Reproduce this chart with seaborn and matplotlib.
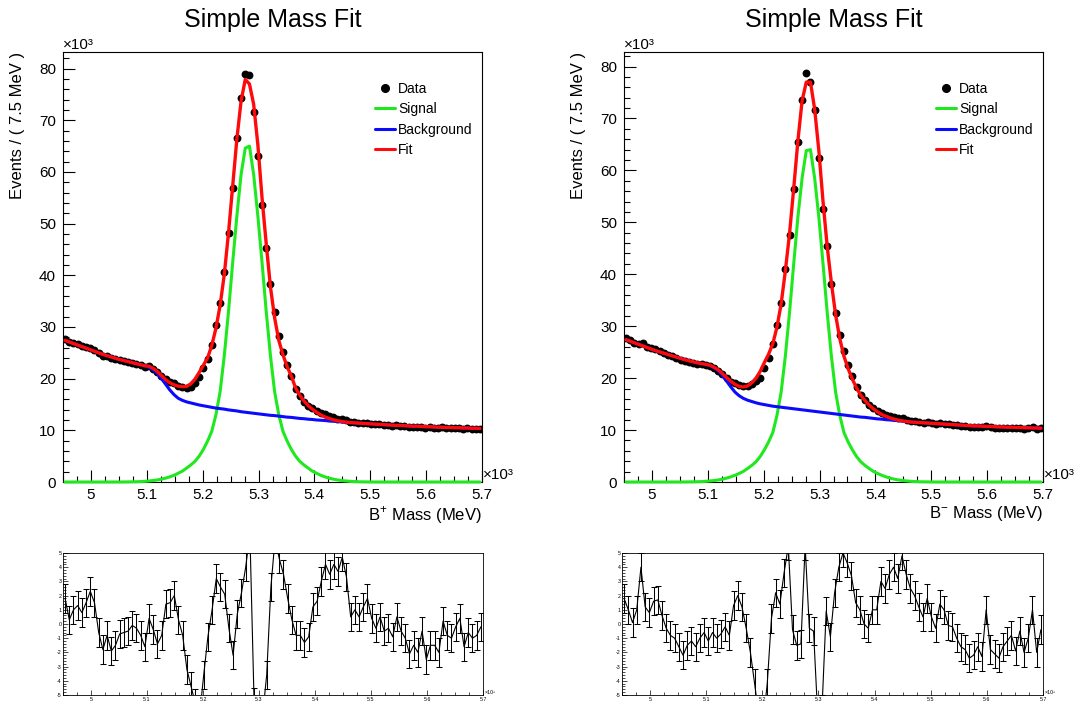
import numpy as np
import matplotlib
matplotlib.use("Agg")
import matplotlib.pyplot as plt
from matplotlib.lines import Line2D
from matplotlib.ticker import MultipleLocator, FuncFormatter
import seaborn as sns

# B mass binning (x 10^3 MeV), 100 bins of 7.5 MeV
mass_lo, mass_hi, n_bins = 4.95, 5.70, 100
mass = mass_lo + (np.arange(n_bins) + 0.5) * (mass_hi - mass_lo) / n_bins

# ---- B+ panel (events x 10^3) ----
data_plus = [27.70, 27.15, 26.96, 26.71, 26.33, 26.14, 25.97, 25.54, 24.90, 24.42,
             24.33, 23.91, 23.72, 23.59, 23.41, 23.22, 23.08, 22.85, 22.58, 22.26,
             22.46, 21.94, 21.20, 20.48, 20.00, 19.40, 19.10, 18.60, 18.35, 18.10,
             18.40, 19.10, 20.30, 22.10, 23.80, 26.60, 30.30, 34.70, 40.60, 48.20,
             56.80, 66.60, 74.30, 79.00, 78.80, 71.60, 63.00, 53.50, 45.30, 38.40,
             32.90, 28.20, 25.20, 22.60, 20.55, 18.09, 16.70, 15.54, 14.69, 14.24,
             13.69, 13.34, 13.07, 12.69, 12.51, 12.25, 12.21, 11.96, 11.55, 11.56,
             11.45, 11.48, 11.49, 11.29, 11.17, 11.20, 11.05, 11.02, 10.91, 11.00,
             10.90, 10.80, 10.63, 10.64, 10.59, 10.70, 10.44, 10.55, 10.50, 10.39,
             10.62, 10.47, 10.45, 10.48, 10.54, 10.29, 10.39, 10.30, 10.32, 10.33]
fit_plus = [27.40, 27.10, 26.80, 26.50, 26.20, 25.90, 25.60, 25.30, 25.00, 24.70,
            24.45, 24.20, 23.95, 23.70, 23.50, 23.30, 23.10, 22.90, 22.70, 22.50,
            22.40, 22.00, 21.40, 20.60, 19.80, 19.20, 18.80, 18.55, 18.45, 18.50,
            19.00, 19.90, 21.20, 22.60, 24.00, 26.40, 29.75, 34.20, 40.20, 48.20,
            57.30, 66.40, 73.70, 77.90, 77.00, 73.10, 65.30, 55.00, 46.10, 37.80,
            31.80, 27.40, 24.60, 22.30, 20.50, 18.20, 16.80, 15.70, 14.80, 14.10,
            13.50, 13.00, 12.60, 12.30, 12.05, 11.85, 11.70, 11.60, 11.50, 11.45,
            11.40, 11.35, 11.30, 11.25, 11.20, 11.15, 11.10, 11.05, 11.00, 10.95,
            10.95, 10.90, 10.85, 10.80, 10.80, 10.75, 10.70, 10.70, 10.65, 10.60,
            10.60, 10.55, 10.55, 10.50, 10.50, 10.45, 10.45, 10.40, 10.40, 10.35]
bkg_plus = [27.40, 27.10, 26.80, 26.50, 26.20, 25.90, 25.60, 25.30, 25.00, 24.70,
            24.45, 24.20, 23.95, 23.70, 23.50, 23.30, 23.10, 22.90, 22.70, 22.45,
            22.20, 21.70, 21.00, 20.00, 18.90, 17.80, 16.90, 16.20, 15.80, 15.50,
            15.30, 15.10, 14.90, 14.75, 14.60, 14.45, 14.30, 14.20, 14.10, 13.95,
            13.85, 13.75, 13.60, 13.50, 13.40, 13.30, 13.20, 13.10, 13.00, 12.90,
            12.85, 12.75, 12.65, 12.55, 12.50, 12.40, 12.30, 12.25, 12.15, 12.10,
            12.00, 11.95, 11.90, 11.80, 11.75, 11.70, 11.60, 11.55, 11.50, 11.45,
            11.40, 11.35, 11.30, 11.25, 11.20, 11.15, 11.10, 11.05, 11.00, 10.95,
            10.95, 10.90, 10.85, 10.80, 10.80, 10.75, 10.70, 10.70, 10.65, 10.60,
            10.60, 10.55, 10.55, 10.50, 10.50, 10.45, 10.45, 10.40, 10.40, 10.35]
sig_plus = [0.0] * 14 + [
    0.01, 0.02, 0.03, 0.05, 0.08, 0.13, 0.2, 0.28, 0.4, 0.55,
    0.75, 1.0, 1.3, 1.7, 2.1, 2.7, 3.3, 4.0, 5.0, 6.3,
    7.9, 9.8, 13.0, 17.5, 24.5, 33.0, 42.5, 51.5, 59.5, 64.6,
    65.0, 59.5, 51.5, 42.5, 33.0, 24.5, 17.5, 13.0, 9.8, 7.9,
    6.3, 5.0, 4.0, 3.3, 2.7, 2.1, 1.7, 1.3, 1.0, 0.75,
    0.55, 0.4, 0.28, 0.2, 0.13, 0.08, 0.05, 0.03, 0.02, 0.01] + [0.0] * 26
pull_plus = [1.8, 0.3, 1.0, 1.3, 0.8, 1.5, 2.3, 1.5, -0.6, -1.8,
             -0.8, -1.9, -1.5, -0.7, -0.6, -0.5, -0.1, -0.3, -0.8, -1.6,
             0.4, -0.4, -1.4, -0.8, 1.4, 1.5, 2.0, 0.3, -0.8, -3.2,
             -4.4, -5.6, -6.5, -3.6, -0.9, 1.0, 3.2, 2.6, 2.1, -0.3,
             -2.2, 0.7, 2.2, 4.0, 6.4, -5.5, -9.0, -6.5, -3.6, 2.6,
             6.0, 4.6, 3.5, 1.8, 0.3, -0.8, -0.8, -1.3, -0.9, 1.2,
             1.6, 3.0, 4.2, 3.5, 4.2, 3.7, 4.7, 3.3, 0.5, 1.0,
             0.5, 1.2, 1.8, 0.4, -0.3, 0.5, -0.5, -0.3, -0.9, 0.5,
             -0.5, -1.0, -2.1, -1.5, -2.0, -0.5, -2.5, -1.5, -1.5, -2.0,
             0.2, -0.8, -1.0, -0.2, 0.4, -1.6, -0.6, -1.0, -0.8, -0.2]

# ---- B- panel ----
data_minus = [27.70, 27.27, 26.82, 26.66, 26.85, 26.09, 25.73, 25.55, 25.32, 24.89,
              24.50, 24.18, 23.90, 23.55, 23.21, 23.12, 22.97, 22.71, 22.65, 22.56,
              22.32, 22.01, 21.45, 20.80, 20.07, 19.29, 18.98, 18.67, 18.46, 18.46,
              18.82, 19.41, 20.10, 22.00, 23.90, 26.60, 30.20, 34.40, 41.00, 47.50,
              56.40, 65.40, 73.60, 78.80, 77.00, 71.60, 62.30, 52.60, 45.50, 38.10,
              32.60, 28.40, 25.20, 22.60, 20.35, 18.30, 16.83, 15.70, 14.76, 14.22,
              13.62, 13.34, 12.93, 12.74, 12.54, 12.25, 12.27, 12.03, 11.82, 11.71,
              11.58, 11.45, 11.54, 11.35, 11.22, 11.35, 11.26, 11.09, 11.03, 10.90,
              10.78, 10.71, 10.60, 10.57, 10.63, 10.51, 10.80, 10.51, 10.43, 10.35,
              10.44, 10.43, 10.47, 10.31, 10.45, 10.25, 10.35, 10.50, 10.20, 10.31]
fit_minus = [27.40, 27.10, 26.80, 26.50, 26.20, 25.90, 25.60, 25.30, 25.05, 24.80,
             24.55, 24.30, 24.05, 23.80, 23.55, 23.35, 23.15, 22.95, 22.80, 22.65,
             22.50, 22.10, 21.60, 20.90, 20.10, 19.40, 18.80, 18.40, 18.30, 18.50,
             19.10, 20.00, 21.30, 23.00, 24.60, 26.60, 29.80, 34.30, 40.60, 47.80,
             56.50, 65.70, 73.40, 77.00, 77.00, 71.80, 63.80, 54.00, 45.30, 38.30,
             32.20, 27.60, 24.20, 21.80, 19.80, 18.10, 16.70, 15.70, 14.80, 14.10,
             13.50, 13.00, 12.65, 12.35, 12.10, 11.90, 11.75, 11.65, 11.55, 11.50,
             11.45, 11.40, 11.35, 11.30, 11.25, 11.20, 11.15, 11.10, 11.05, 11.00,
             10.95, 10.90, 10.85, 10.80, 10.80, 10.75, 10.70, 10.70, 10.65, 10.60,
             10.60, 10.55, 10.55, 10.50, 10.50, 10.45, 10.45, 10.40, 10.40, 10.35]
bkg_minus = [27.40, 27.10, 26.80, 26.50, 26.20, 25.90, 25.60, 25.30, 25.05, 24.80,
             24.55, 24.30, 24.05, 23.80, 23.55, 23.35, 23.15, 22.95, 22.80, 22.65,
             22.40, 22.00, 21.40, 20.50, 19.40, 18.30, 17.30, 16.60, 16.10, 15.75,
             15.50, 15.25, 15.05, 14.90, 14.75, 14.60, 14.50, 14.40, 14.30, 14.20,
             14.10, 14.00, 13.90, 13.80, 13.70, 13.60, 13.50, 13.40, 13.30, 13.20,
             13.10, 13.00, 12.90, 12.80, 12.70, 12.60, 12.50, 12.45, 12.35, 12.25,
             12.15, 12.10, 12.00, 11.95, 11.85, 11.80, 11.70, 11.65, 11.55, 11.50,
             11.45, 11.40, 11.35, 11.30, 11.25, 11.20, 11.15, 11.10, 11.05, 11.00,
             10.95, 10.90, 10.85, 10.80, 10.80, 10.75, 10.70, 10.70, 10.65, 10.60,
             10.60, 10.55, 10.55, 10.50, 10.50, 10.45, 10.45, 10.40, 10.40, 10.35]
sig_minus = [0.0] * 14 + [
    0.01, 0.02, 0.03, 0.05, 0.08, 0.13, 0.2, 0.28, 0.4, 0.55,
    0.75, 1.0, 1.3, 1.65, 2.05, 2.6, 3.2, 3.9, 4.9, 6.2,
    7.7, 9.5, 12.8, 17.3, 24.2, 32.6, 42.0, 51.0, 58.5, 63.8,
    64.0, 58.5, 51.0, 42.0, 32.6, 24.2, 17.3, 12.8, 9.5, 7.7,
    6.2, 4.9, 3.9, 3.2, 2.6, 2.05, 1.65, 1.3, 1.0, 0.75,
    0.55, 0.4, 0.28, 0.2, 0.13, 0.08, 0.05, 0.03, 0.02, 0.01] + [0.0] * 26
pull_minus = [1.8, 1.0, 0.1, 1.0, 4.0, 1.2, 0.8, 1.6, 1.7, 0.6,
              -0.3, -0.8, -1.0, -1.6, -2.2, -1.5, -1.2, -1.6, -1.0, -0.6,
              -1.2, -0.6, -1.0, -0.7, -0.2, -0.8, 1.3, 2.0, 1.2, -0.3,
              -2.0, -4.2, -6.5, -7.0, -4.2, 0.4, 2.2, 1.4, 3.6, 5.5,
              -0.4, -1.5, -1.4, 5.5, -0.3, -0.5, -6.5, -6.0, 0.9, -0.9,
              2.2, 4.0, 5.0, 4.3, 3.4, 1.5, 1.0, 0.0, -0.3, 1.0,
              1.0, 3.0, 2.5, 3.5, 4.0, 3.2, 4.8, 3.5, 2.5, 2.0,
              1.2, 0.5, 1.8, 0.5, -0.3, 1.4, 1.0, -0.1, -0.2, -1.0,
              -1.6, -1.8, -2.4, -2.2, -1.6, -2.3, 1.0, -1.8, -2.1, -2.4,
              -1.6, -1.2, -0.8, -1.9, -0.5, -2.0, -1.0, 1.0, -2.0, -0.4]

legend_labels = ["Data", "Signal", "Background", "Fit"]
c_sig, c_bkg, c_fit = "#1fe81f", "#0a0aff", "#ff0a0a"

sns.set_theme(style="white")
plt.rcParams["font.family"] = ["Liberation Sans", "DejaVu Sans"]
plt.rcParams["mathtext.fontset"] = "custom"
plt.rcParams["mathtext.rm"] = "Liberation Sans"
plt.rcParams["axes.unicode_minus"] = False
plt.rcParams["text.color"] = "black"
plt.rcParams["axes.labelcolor"] = "black"
plt.rcParams["xtick.color"] = "black"
plt.rcParams["ytick.color"] = "black"

fmt_g = FuncFormatter(lambda v, p: "%g" % round(v, 3))


def frame(ax, lw):
    for sp in ax.spines.values():
        sp.set_visible(True)
        sp.set_color("black")
        sp.set_linewidth(lw)


def mass_panel(ax, data, fit, sig, bkg, xlabel, ytop):
    sns.scatterplot(x=mass, y=data, ax=ax, color="black", s=32, linewidth=0, zorder=2)
    sns.lineplot(x=mass, y=sig, ax=ax, color=c_sig, lw=2.2, estimator=None, sort=False, zorder=3, clip_on=False)
    sns.lineplot(x=mass, y=bkg, ax=ax, color=c_bkg, lw=2.2, estimator=None, sort=False, zorder=3)
    sns.lineplot(x=mass, y=fit, ax=ax, color=c_fit, lw=2.4, estimator=None, sort=False, zorder=4)
    ax.set_xlim(mass_lo, mass_hi)
    ax.set_ylim(0, ytop)
    frame(ax, 0.8)
    ax.xaxis.set_major_locator(MultipleLocator(0.1))
    ax.xaxis.set_minor_locator(MultipleLocator(0.025))
    ax.yaxis.set_major_locator(MultipleLocator(10))
    ax.yaxis.set_minor_locator(MultipleLocator(2))
    ax.xaxis.set_major_formatter(fmt_g)
    ax.tick_params(which="both", direction="in", top=False, right=False,
                   bottom=True, left=True, width=0.8, labelsize=11, colors="black")
    ax.tick_params(which="major", length=8.5)
    ax.tick_params(which="minor", length=4.5)
    ax.tick_params(axis="x", pad=4)
    ax.tick_params(axis="y", pad=5)
    ax.set_title("Simple Mass Fit", fontsize=18, pad=18, color="black")
    ax.set_xlabel(xlabel, fontsize=12, loc="right", labelpad=2)
    ax.set_ylabel("Events / ( 7.5 MeV )", fontsize=12, loc="top")
    ax.yaxis.set_label_coords(-0.09, 1.0)
    ax.text(0.0, 1.0, "×10³", transform=ax.transAxes, ha="left", va="bottom", fontsize=11)
    ax.text(1.002, 0.0, "×10³", transform=ax.transAxes, ha="left", va="bottom", fontsize=11)
    handles = [Line2D([], [], ls="none", marker="o", color="black", markersize=5.5),
               Line2D([], [], color=c_sig, lw=2.2),
               Line2D([], [], color=c_bkg, lw=2.2),
               Line2D([], [], color=c_fit, lw=2.2)]
    ax.legend(handles, legend_labels, loc="upper left", bbox_to_anchor=(0.745, 0.93),
              frameon=False, fontsize=10, handlelength=1.45, handletextpad=0.2,
              labelspacing=0.45, borderpad=0, borderaxespad=0)


def pull_panel(ax, pull):
    ax.errorbar(mass, pull, yerr=1.0, fmt="none", ecolor="black", elinewidth=0.75,
                capsize=2.0, capthick=0.75)
    sns.lineplot(x=mass, y=pull, ax=ax, color="black", lw=0.8, estimator=None, sort=False)
    ax.set_xlim(mass_lo, mass_hi)
    ax.set_ylim(-5, 5)
    frame(ax, 0.6)
    ax.xaxis.set_major_locator(MultipleLocator(0.1))
    ax.xaxis.set_minor_locator(MultipleLocator(0.025))
    ax.yaxis.set_major_locator(MultipleLocator(1))
    ax.yaxis.set_minor_locator(MultipleLocator(0.2))
    ax.xaxis.set_major_formatter(fmt_g)
    ax.yaxis.set_major_formatter(fmt_g)
    ax.tick_params(which="both", direction="in", top=False, right=False,
                   bottom=True, left=True, width=0.5, labelsize=3.8, pad=1.2, colors="black")
    ax.tick_params(which="major", length=3.6)
    ax.tick_params(which="minor", length=2.2)
    ax.set_xlabel("")
    ax.set_ylabel("")
    ax.text(1.004, 0.0, "×10³", transform=ax.transAxes, ha="left", va="bottom", fontsize=3.8)


fig = plt.figure(figsize=(10.83, 7.04), dpi=100)
ax1 = fig.add_axes([0.05817, 0.31534, 0.3869, 0.6108])
ax2 = fig.add_axes([0.57618, 0.31534, 0.3869, 0.6108])
ax3 = fig.add_axes([0.05817, 0.01278, 0.3878, 0.20171])
ax4 = fig.add_axes([0.57433, 0.01278, 0.38873, 0.20171])

mass_panel(ax1, data_plus, fit_plus, sig_plus, bkg_plus, r"B$^{+}$ Mass (MeV)", 83.2)
mass_panel(ax2, data_minus, fit_minus, sig_minus, bkg_minus, r"B$^{-}$ Mass (MeV)", 82.8)
pull_panel(ax3, pull_plus)
pull_panel(ax4, pull_minus)

fig.savefig("out.png", dpi=100, facecolor="white")
